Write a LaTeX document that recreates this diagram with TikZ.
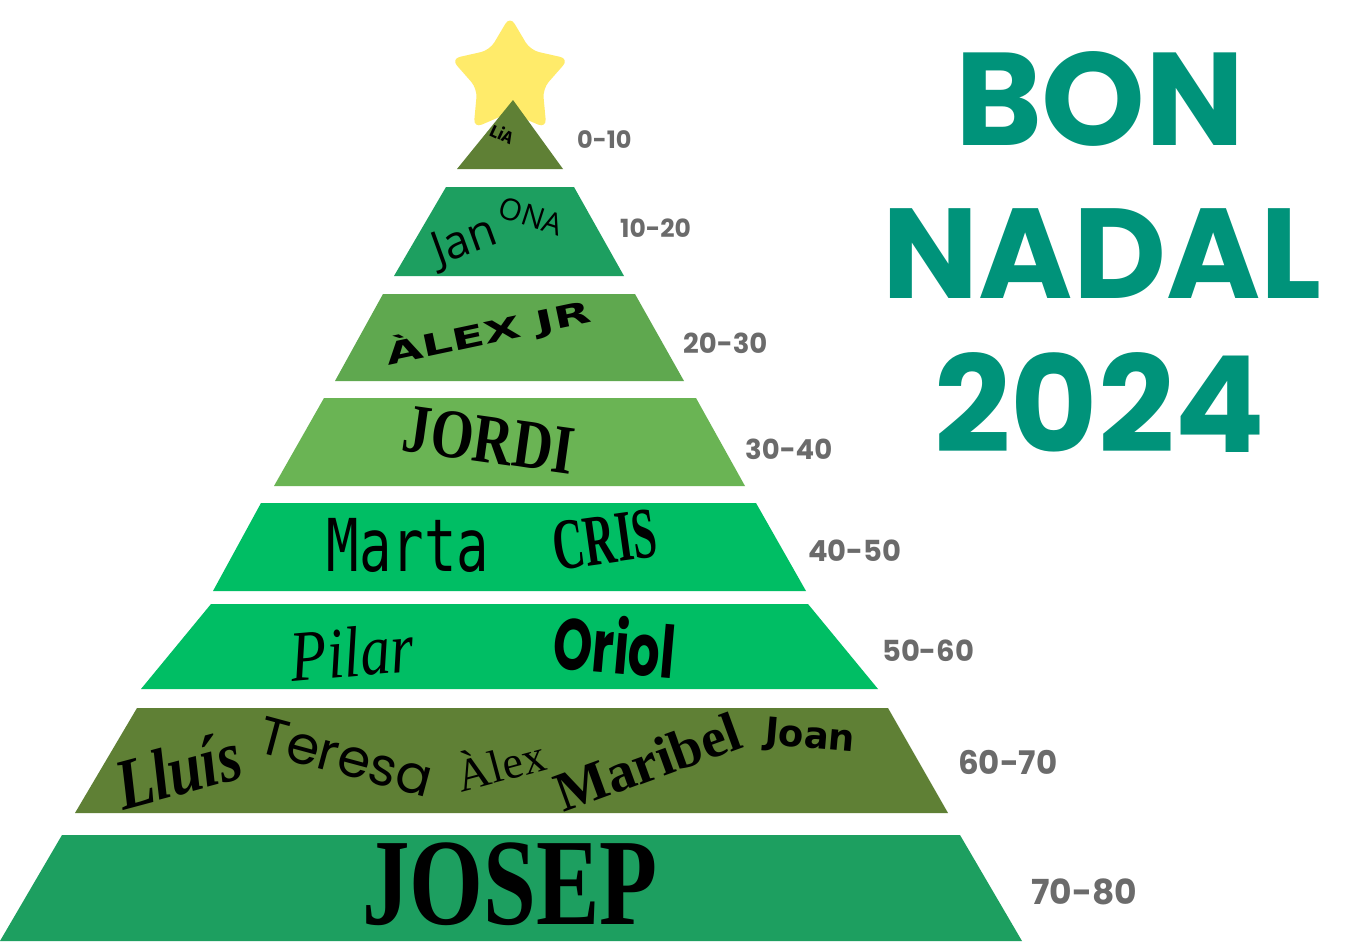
\documentclass[tikz,border=0pt]{standalone}
\usepackage{fontspec}
\usetikzlibrary{shapes.geometric}
\newfontfamily\fpop{Poppins}
\newfontfamily\ffira{Fira Sans}
\newfontfamily\fopen{Open Sans}
\newfontfamily\fdejav{DejaVu Sans}
\newfontfamily\fmono{DejaVu Sans Mono}
\newfontfamily\fserif{Liberation Serif}
\definecolor{olivegr}{HTML}{5F8035}
\definecolor{midgr}{HTML}{1D9F60}
\definecolor{leafgr}{HTML}{5FA84F}
\definecolor{lightgr}{HTML}{6AB454}
\definecolor{brightgr}{HTML}{00BE64}
\definecolor{stary}{HTML}{FFEB6A}
\definecolor{titleteal}{HTML}{00937A}
\definecolor{agegray}{HTML}{6B6B6B}
\tikzset{
  agelbl/.style={anchor=west, text=agegray, inner sep=0pt},
  namelbl/.style={text=black, inner sep=0pt},
  titlelbl/.style={text=titleteal, inner sep=0pt}
}
\newcommand{\fs}[1]{\fontsize{#1}{#1}\selectfont}
\begin{document}
\begin{tikzpicture}[x=1pt,y=-1pt]
\useasboundingbox (0,0) rectangle (1361,943);
\fill[white] (0,0) rectangle (1361,943);
% star
\node[star, star points=5, star point ratio=1.8, fill=stary, minimum size=124pt, rounded corners=9pt, inner sep=0pt] (star) at (510,78) {};
% tiers
\fill[olivegr] (457,169) -- (563,169) -- (513,100) -- cycle;
\fill[midgr] (446,187) -- (574,187) -- (624,276) -- (394,276) -- cycle;
\fill[leafgr] (383,294) -- (635,294) -- (684,381) -- (335,381) -- cycle;
\fill[lightgr] (324,398) -- (696,398) -- (745,486) -- (274,486) -- cycle;
\fill[brightgr] (261,503) -- (756,503) -- (806,591) -- (213,591) -- cycle;
\fill[brightgr] (211,604) -- (808,604) -- (878,689) -- (141,689) -- cycle;
\fill[olivegr] (137,708) -- (888,708) -- (948,813) -- (75,813) -- cycle;
\fill[midgr] (62,835) -- (960,835) -- (1022,941) -- (0,941) -- cycle;
% names
\node[namelbl, rotate=-25] (lia) at (502,134) {\ffira\bfseries\fs{17}LiA};
\node[namelbl, rotate=20] (jan) at (465,243) {\fopen\fs{46}Jan};
\node[namelbl, rotate=-18] (ona) at (531,216) {\fopen\fs{30}ONA};
\node[namelbl, rotate=12] (alexjr) at (488,333) {\scalebox{1.6}[1]{\fdejav\bfseries\fs{30}ÀLEX JR}};
\node[namelbl, rotate=-8] (jordi) at (489,440) {\scalebox{0.95}[1.2]{\fserif\bfseries\fs{58}JORDI}};
\node[namelbl] (marta) at (408,545) {\scalebox{1}[1.35]{\fmono\fs{54}Marta}};
\node[namelbl, rotate=8] (cris) at (605,540) {\scalebox{0.75}[1.25]{\fserif\bfseries\fs{58}CRIS}};
\node[namelbl, rotate=5] (pilar) at (352,652) {\scalebox{1}[1.2]{\fserif\itshape\fs{60}Pilar}};
\node[namelbl, rotate=-5] (oriol) at (615,645) {\scalebox{1}[1.45]{\fpop\bfseries\fs{50}Oriol}};
\node[namelbl, rotate=15] (lluis) at (178,770) {\scalebox{1}[1.2]{\fserif\bfseries\itshape\fs{60}Lluís}};
\node[namelbl, rotate=-15] (teresa) at (346,757) {\fpop\fs{53}Teresa};
\node[namelbl, rotate=15] (alex) at (500,762) {\fserif\fs{46}Àlex};
\node[namelbl, rotate=20] (maribel) at (648,762) {\fserif\bfseries\fs{56}Maribel};
\node[namelbl, rotate=-5] (joan) at (810,738) {\fdejav\bfseries\fs{37}Joan};
\node[namelbl, anchor=base] (josep) at (510,924) {\raisebox{0pt}[\height][0pt]{\scalebox{1}[1.3]{\fserif\bfseries\fs{95}JOSEP}}};
% ages
\node[agelbl] (a1) at (577,140) {\fpop\bfseries\fs{24}0-10};
\node[agelbl] (a2) at (620,228) {\fpop\bfseries\fs{25}10-20};
\node[agelbl] (a3) at (683,343) {\fpop\bfseries\fs{27.5}20-30};
\node[agelbl] (a4) at (745,449) {\fpop\bfseries\fs{27.5}30-40};
\node[agelbl] (a5) at (808,551) {\fpop\bfseries\fs{29}40-50};
\node[agelbl] (a6) at (882,651) {\fpop\bfseries\fs{29}50-60};
\node[agelbl] (a7) at (958,762) {\fpop\bfseries\fs{32.5}60-70};
\node[agelbl] (a8) at (1031,892) {\fpop\bfseries\fs{34.5}70-80};
% title
\node[titlelbl, anchor=base] (bon) at (1100,145) {\fpop\bfseries\fs{132}BON};
\node[titlelbl, anchor=base] (nadal) at (1102,298) {\fpop\bfseries\fs{128}NADAL};
\node[titlelbl, anchor=base] (year) at (1100,452) {\fpop\bfseries\fs{134}2024};
\end{tikzpicture}
\end{document}
